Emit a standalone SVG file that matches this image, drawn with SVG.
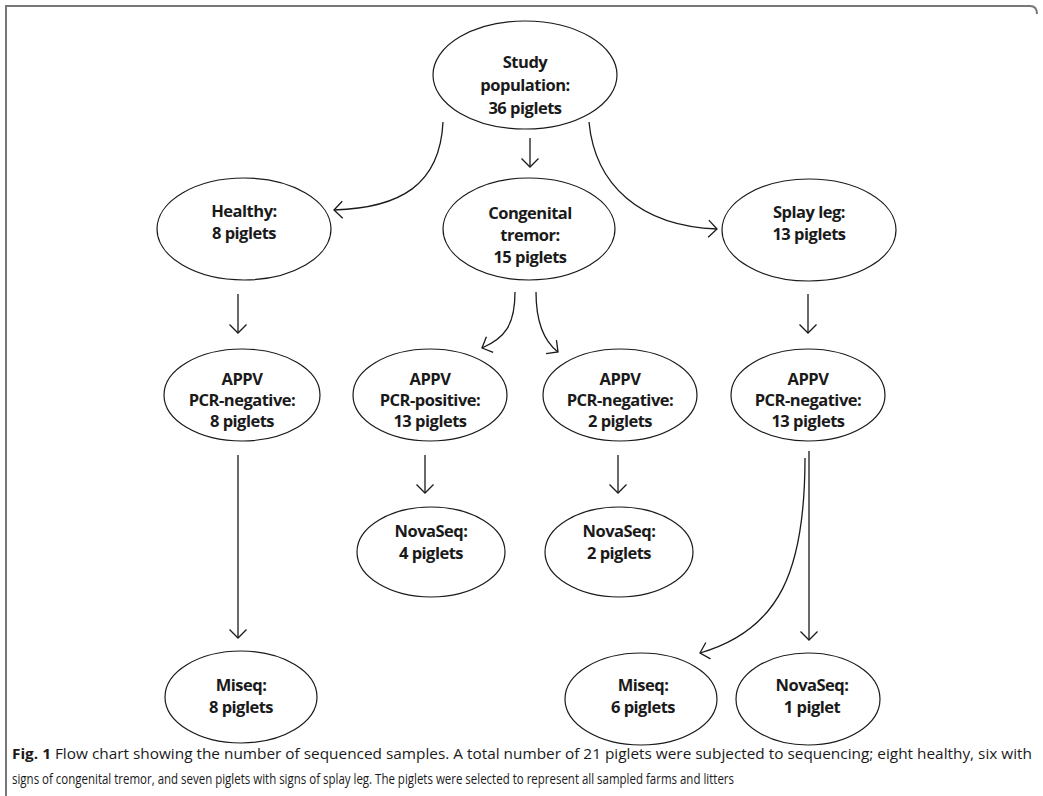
<svg xmlns="http://www.w3.org/2000/svg" width="1043" height="796" viewBox="0 0 1043 796">
<style>
.n ellipse{fill:#fff;stroke:#1a1a1a;stroke-width:1.2}
.n text{font-family:"Open Sans","Liberation Sans",sans-serif;font-weight:700;font-size:16.5px;letter-spacing:-0.5px;fill:#1a1a1a;text-anchor:middle}
.c path{fill:none;stroke:#1a1a1a;stroke-width:1.3;marker-end:url(#ah)}
.cap{font-family:"Open Sans","Liberation Sans",sans-serif;font-size:15px;fill:#1a1a1a}
</style>
<defs>
<marker id="ah" markerUnits="userSpaceOnUse" markerWidth="20" markerHeight="20" refX="10" refY="10" orient="auto" viewBox="0 0 20 20">
<path d="M1.5,1.5 L10,10 L1.5,18.5" fill="none" stroke="#1a1a1a" stroke-width="1.3"/>
</marker>
</defs>
<rect width="1043" height="796" fill="#fff"/>
<path d="M6,796 V6 H1030 Q1037,6 1037,14" fill="none" stroke="#777" stroke-width="2"/>

<g class="c" id="connectors">
<path d="M530,138 V167"/>
<path d="M443,122 C440,185 400,208 334,210"/>
<path d="M589,122 C595,185 640,226 717,229"/>
<path d="M238,294 V333"/>
<path d="M808,294 V333"/>
<path d="M515,292 C515,325 505,338 482,348"/>
<path d="M536,292 C536,325 545,342 558,352"/>
<path d="M425,455 V493"/>
<path d="M618,455 V493"/>
<path d="M238,455 V638"/>
<path d="M809,451 V640"/>
<path d="M805,458 C805,570 780,630 700,653"/>
</g>

<g class="n" id="n-study"><ellipse cx="525" cy="75" rx="92" ry="54"/><text x="525" y="68">Study</text><text x="525" y="91">population:</text><text x="525" y="114">36 piglets</text></g>
<g class="n" id="n-healthy"><ellipse cx="244" cy="229" rx="87" ry="51"/><text x="244" y="217">Healthy:</text><text x="244" y="239">8 piglets</text></g>
<g class="n" id="n-ct"><ellipse cx="529" cy="229" rx="86" ry="51"/><text x="530" y="219">Congenital</text><text x="530" y="241">tremor:</text><text x="530" y="263">15 piglets</text></g>
<g class="n" id="n-splay"><ellipse cx="809" cy="230" rx="87" ry="51"/><text x="809" y="218">Splay leg:</text><text x="809" y="240">13 piglets</text></g>

<g class="n" id="n-h-appv"><ellipse cx="242" cy="395" rx="78" ry="46"/><text x="242" y="385">APPV</text><text x="242" y="406">PCR-negative:</text><text x="242" y="427">8 piglets</text></g>
<g class="n" id="n-ct-pos"><ellipse cx="430" cy="395" rx="77" ry="46"/><text x="430" y="385">APPV</text><text x="430" y="406">PCR-positive:</text><text x="430" y="427">13 piglets</text></g>
<g class="n" id="n-ct-neg"><ellipse cx="620" cy="395" rx="77" ry="46"/><text x="620" y="385">APPV</text><text x="620" y="406">PCR-negative:</text><text x="620" y="427">2 piglets</text></g>
<g class="n" id="n-s-appv"><ellipse cx="808" cy="395" rx="77" ry="46"/><text x="808" y="385">APPV</text><text x="808" y="406">PCR-negative:</text><text x="808" y="427">13 piglets</text></g>

<g class="n" id="n-nova4"><ellipse cx="431" cy="552" rx="74" ry="45"/><text x="431" y="537">NovaSeq:</text><text x="431" y="559">4 piglets</text></g>
<g class="n" id="n-nova2"><ellipse cx="619" cy="552" rx="74" ry="45"/><text x="619" y="537">NovaSeq:</text><text x="619" y="559">2 piglets</text></g>

<g class="n" id="n-miseq8"><ellipse cx="241" cy="697" rx="76" ry="46"/><text x="241" y="691">Miseq:</text><text x="241" y="713">8 piglets</text></g>
<g class="n" id="n-miseq6"><ellipse cx="641" cy="699" rx="76" ry="46"/><text x="643" y="691">Miseq:</text><text x="643" y="713">6 piglets</text></g>
<g class="n" id="n-nova1"><ellipse cx="808" cy="699" rx="72" ry="46"/><text x="812" y="691">NovaSeq:</text><text x="812" y="713">1 piglet</text></g>

<g id="caption">
<text class="cap" x="12" y="759" textLength="1020" lengthAdjust="spacingAndGlyphs"><tspan font-weight="700">Fig. 1</tspan>  Flow chart showing the number of sequenced samples. A total number of 21 piglets were subjected to sequencing; eight healthy, six with</text>
<text class="cap" x="12" y="784" textLength="722" lengthAdjust="spacingAndGlyphs">signs of congenital tremor, and seven piglets with signs of splay leg. The piglets were selected to represent all sampled farms and litters</text>
</g>
</svg>
